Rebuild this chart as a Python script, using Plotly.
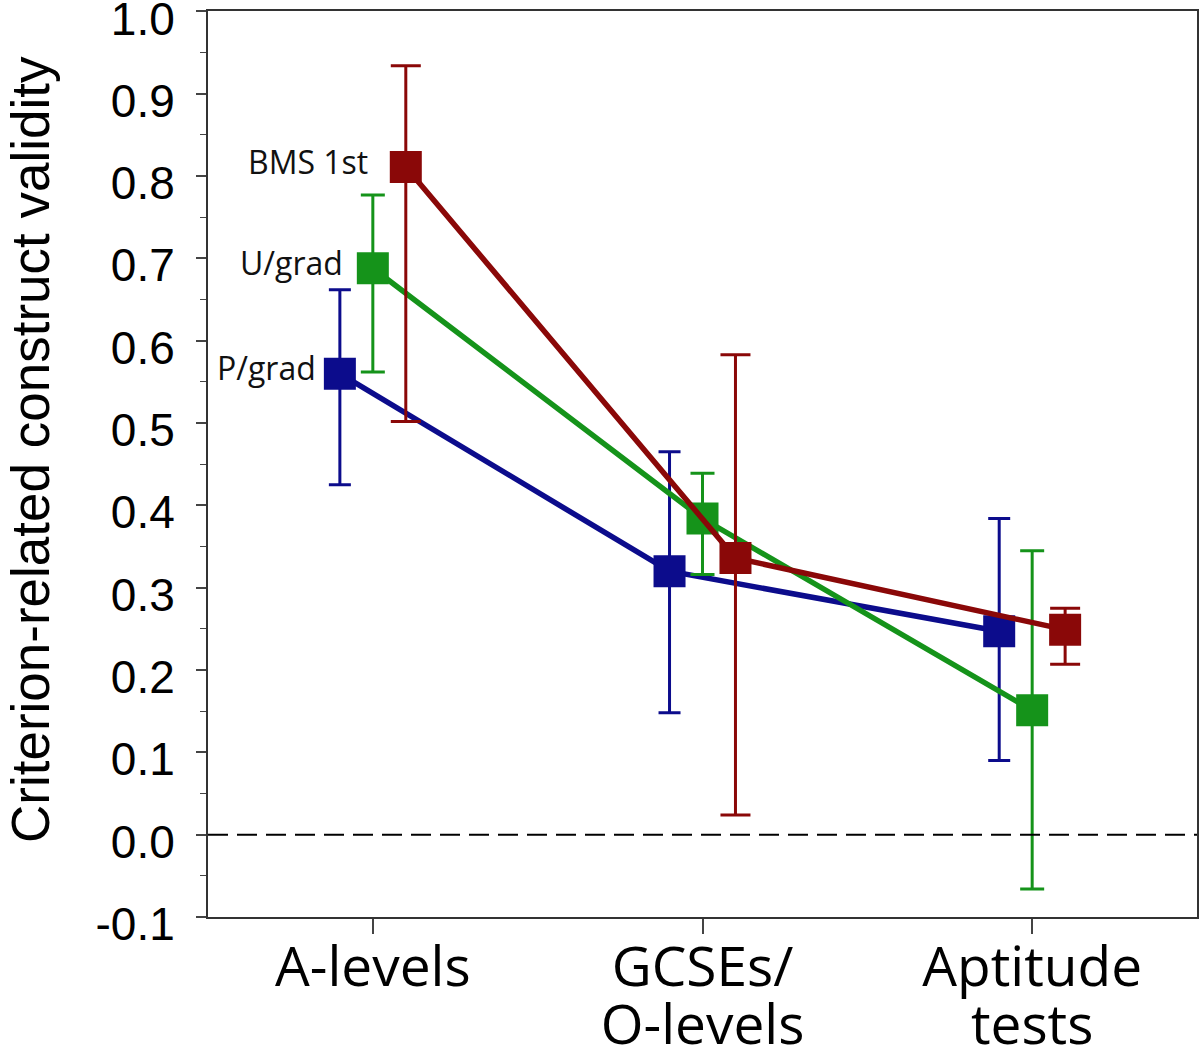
import numpy as np
import plotly.graph_objects as go

categories = ["A-levels", "GCSEs/\nO-levels", "Aptitude\ntests"]
series_names = ["P/grad", "U/grad", "BMS 1st"]
y_title = "Criterion-related construct validity"

pgrad_mean = [0.560, 0.320, 0.247]
pgrad_low = [0.425, 0.148, 0.090]
pgrad_high = [0.662, 0.465, 0.384]

ugrad_mean = [0.688, 0.384, 0.151]
ugrad_low = [0.562, 0.316, -0.066]
ugrad_high = [0.777, 0.439, 0.345]

bms_mean = [0.811, 0.336, 0.249]
bms_low = [0.502, 0.024, 0.207]
bms_high = [0.934, 0.583, 0.275]

y_ticks = [-0.1, 0.0, 0.1, 0.2, 0.3, 0.4, 0.5, 0.6, 0.7, 0.8, 0.9, 1.0]

colors = ["#0c0c8c", "#15931a", "#8a0808"]
offsets = [-0.1, 0.0, 0.1]
capw = [11, 12, 15]

fig = go.Figure()
base = np.arange(len(categories))
line1 = [c.split("\n")[0] for c in categories]
line2 = [c.split("\n")[1] if "\n" in c else "" for c in categories]

all_series = [
    (pgrad_mean, pgrad_low, pgrad_high),
    (ugrad_mean, ugrad_low, ugrad_high),
    (bms_mean, bms_low, bms_high),
]
for i, (m, lo, hi) in enumerate(all_series):
    m = np.array(m); lo = np.array(lo); hi = np.array(hi)
    fig.add_trace(go.Scatter(
        x=base + offsets[i], y=m, mode="lines+markers", name=series_names[i],
        line=dict(color=colors[i], width=5.5),
        marker=dict(symbol="square", size=32, color=colors[i]),
        error_y=dict(type="data", symmetric=False, array=hi - m, arrayminus=m - lo,
                     color=colors[i], thickness=3, width=capw[i]),
        showlegend=False,
    ))

# invisible trace so the second-line label axis exists
fig.add_trace(go.Scatter(x=base, y=[None] * len(base), xaxis="x2", yaxis="y",
                         mode="markers", showlegend=False, hoverinfo="skip"))

label_shift = [-22, -28, -36]
for i, (m, lo, hi) in enumerate(all_series):
    fig.add_annotation(x=base[0] + offsets[i], y=m[0], text=series_names[i],
                       xref="x", yref="y", xanchor="right", yanchor="middle",
                       xshift=label_shift[i], yshift=6, showarrow=False,
                       font=dict(family="Open Sans", size=32, color="#111111"))

# y-axis title
fig.add_annotation(x=0, y=0.5, xref="paper", yref="paper", text=y_title,
                   textangle=-90, showarrow=False, xanchor="center", yanchor="middle",
                   xshift=-178, yshift=14,
                   font=dict(family="Liberation Sans", size=53, color="black"))

fig.add_shape(type="line", xref="paper", yref="y", x0=0, x1=1, y0=0, y1=0,
              line=dict(color="black", width=2, dash="20px,9px"))

fig.update_layout(
    width=1200, height=1052,
    margin=dict(l=208, r=3, t=11, b=135),
    paper_bgcolor="white", plot_bgcolor="white",
    xaxis=dict(
        range=[-0.5, 2.5], tickmode="array", tickvals=list(base), ticktext=line1,
        ticks="outside", ticklen=15, tickwidth=1.5, tickcolor="#444",
        showgrid=False, zeroline=False, automargin=False,
        showline=True, linecolor="#333", linewidth=2, mirror=True,
        tickfont=dict(family="Open Sans", size=55, color="black"),
        ticklabelstandoff=-14, ticklabeloverflow="allow",
    ),
    xaxis2=dict(
        range=[-0.5, 2.5], tickmode="array", tickvals=list(base), ticktext=line2,
        overlaying="x", anchor="y", side="bottom",
        ticks="outside", ticklen=15, tickcolor="rgba(0,0,0,0)",
        showgrid=False, zeroline=False, automargin=False, showline=False,
        tickfont=dict(family="Open Sans", size=55, color="black"),
        ticklabelstandoff=45, ticklabeloverflow="allow",
    ),
    yaxis=dict(
        range=[-0.1, 1.0005], tickmode="array", tickvals=y_ticks,
        ticktext=[f"{v:.1f}" for v in y_ticks],
        ticks="outside", ticklen=10, tickwidth=1.5, tickcolor="#444",
        minor=dict(ticks="outside", ticklen=6, dtick=0.05, tickcolor="#444", tickwidth=1.2),
        showgrid=False, zeroline=False, automargin=False,
        showline=True, linecolor="#333", linewidth=2, mirror=True,
        tickfont=dict(family="Liberation Sans", size=46, color="black"),
        ticklabelstandoff=12, ticklabelshift=7, ticklabeloverflow="allow",
    ),
)

fig.write_html("out.html", config={"displayModeBar": False},
               post_script="document.body.style.margin='0';")
